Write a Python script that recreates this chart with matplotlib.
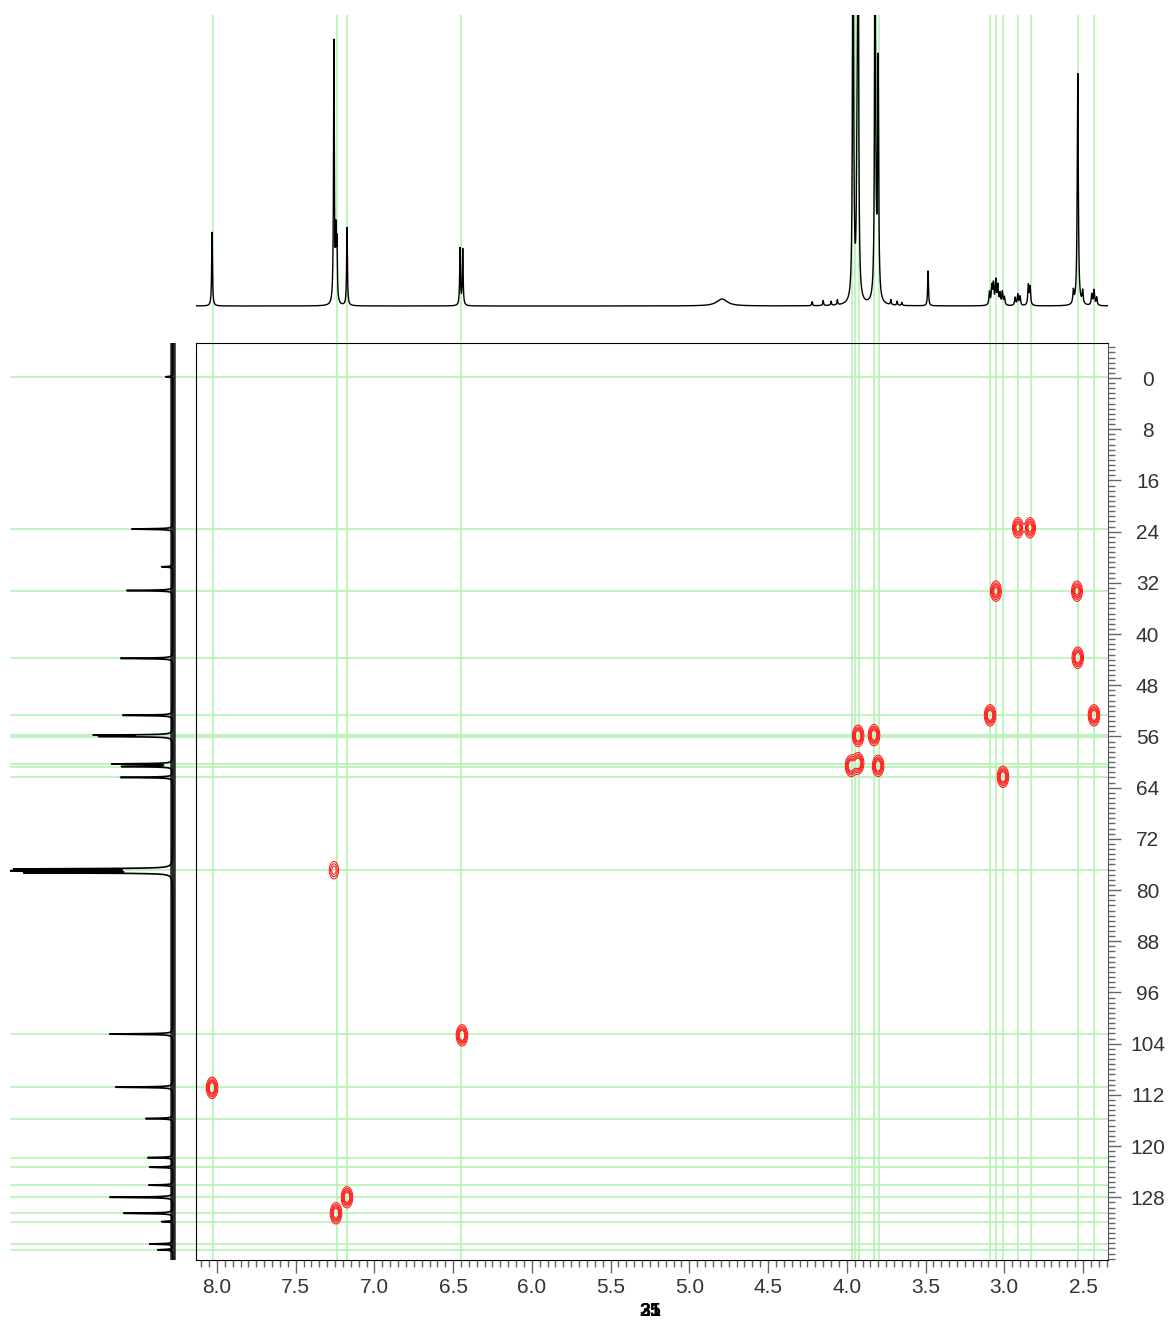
import numpy as np
import matplotlib
matplotlib.use('Agg')
import matplotlib.pyplot as plt
from matplotlib.ticker import FixedLocator

plt.rcParams['font.family'] = ['Liberation Sans', 'DejaVu Sans']

# 1H projection: shift (ppm), height, half width (ppm)
h_shift = [8.031, 7.257, 7.245, 7.238, 7.174, 6.456, 6.439, 4.792,
           4.22, 4.15, 4.10, 4.06, 3.72, 3.68, 3.65,
           3.960, 3.935, 3.928, 3.820, 3.801, 3.484,
           3.094, 3.079, 3.069, 3.054, 3.041, 3.027, 3.012, 2.999,
           2.931, 2.914, 2.900, 2.847, 2.836,
           2.561, 2.533, 2.502, 2.444, 2.430, 2.413]
h_height = [74, 262, 62, 56, 78, 57, 56, 7,
            4, 5, 4, 5, 5, 4, 3,
            420, 100, 400, 380, 236, 35,
            13, 18, 20, 24, 19, 11, 13, 8,
            8, 11, 9, 20, 18,
            13, 232, 13, 11, 15, 8]
h_width = [0.003, 0.003, 0.003, 0.003, 0.003, 0.003, 0.003, 0.04,
           0.003, 0.003, 0.003, 0.003, 0.003, 0.003, 0.003,
           0.004, 0.004, 0.004, 0.004, 0.004, 0.003,
           0.004, 0.004, 0.004, 0.004, 0.004, 0.004, 0.004, 0.004,
           0.004, 0.004, 0.004, 0.004, 0.004,
           0.004, 0.004, 0.004, 0.004, 0.004, 0.004]

# 13C projection: shift (ppm), height
c_shift = [-0.2, 23.6, 29.5, 33.2, 43.8, 52.7, 55.8, 56.0, 60.3, 60.7, 62.4,
           76.7, 77.0, 77.3, 102.5, 110.8, 115.7, 121.8, 123.3, 126.1,
           128.0, 130.5, 131.8, 135.3, 136.2]
c_height = [7, 41, 11, 46, 52, 50, 74, 68, 60, 50, 52,
            150, 200, 140, 63, 57, 27, 25, 23, 24,
            63, 49, 11, 23, 15]

# HSQC cross peaks: 1H ppm, 13C ppm, intensity
xp_h = [8.031, 7.257, 7.174, 7.244, 6.444, 3.928, 3.827, 3.973, 3.928, 3.801,
        3.008, 3.090, 2.430, 2.913, 2.836, 3.053, 2.538, 2.533]
xp_c = [110.9, 76.9, 128.0, 130.5, 102.7, 55.9, 55.8, 60.6, 60.2, 60.6,
        62.3, 52.7, 52.7, 23.4, 23.4, 33.3, 33.3, 43.7]
xp_int = [1.0, 0.45, 1.0, 1.0, 1.0, 1.0, 1.0, 1.0, 1.0, 1.0,
          1.0, 1.0, 1.0, 0.8, 0.8, 0.8, 0.8, 1.0]

# correlation guide lines
h_lines = [8.025, 7.237, 7.174, 6.450, 3.967, 3.948, 3.925, 3.827, 3.798,
           3.090, 3.055, 3.006, 2.914, 2.833, 2.534, 2.430]
c_lines = [-0.2, 23.6, 33.2, 43.8, 52.7, 55.8, 56.1, 60.3, 60.8, 62.4,
           76.8, 102.5, 110.8, 115.7, 121.8, 123.3, 126.1, 128.0, 130.5,
           131.8, 135.3, 136.2]

x_ticks = [8.0, 7.5, 7.0, 6.5, 6.0, 5.5, 5.0, 4.5, 4.0, 3.5, 3.0, 2.5]
y_ticks = list(range(0, 129, 8))

XLIM = (8.133, 2.341)
YLIM = (137.8, -5.47)
GREEN = '#b4f2b4'

W, H = 1171, 1324
fig = plt.figure(figsize=(W / 100, H / 100), dpi=100)
ax = fig.add_axes([196 / W, 1 - 1260 / H, 912 / W, 917 / H])
ax_top = fig.add_axes([196 / W, 1 - 343 / H, 912 / W, 328 / H])
ax_left = fig.add_axes([10 / W, 1 - 1260 / H, 186 / W, 917 / H])

# --- top 1H trace
xs = np.linspace(XLIM[0], XLIM[1], 14000)
spec = np.zeros_like(xs)
for p, h, w in zip(h_shift, h_height, h_width):
    spec += h / (1 + ((xs - p) / w) ** 2)
for v in h_lines:
    ax_top.axvline(v, color=GREEN, lw=1.2, zorder=1)
ax_top.plot(xs, spec, color='black', lw=1.0, zorder=2)
ax_top.set_xlim(XLIM)
ax_top.set_ylim(-37, 291)
ax_top.axis('off')

# --- left 13C trace
ys = np.linspace(YLIM[1], YLIM[0], 16000)
cspec = np.zeros_like(ys)
for p, h in zip(c_shift, c_height):
    cspec += h / (1 + ((ys - p) / 0.06) ** 2)
for v in c_lines:
    ax_left.axhline(v, color=GREEN, lw=1.2, zorder=1)
ax_left.axvline(0, color='#2a2a2a', lw=4, zorder=2)
ax_left.plot(cspec, ys, color='black', lw=1.2, zorder=3)
ax_left.set_xlim(162.7, -23.3)
ax_left.set_ylim(YLIM)
ax_left.axis('off')

# --- 2D HSQC
for v in h_lines:
    ax.axvline(v, color=GREEN, lw=1.2, zorder=1)
for v in c_lines:
    ax.axhline(v, color=GREEN, lw=1.2, zorder=1)

gx_axis = np.linspace(XLIM[0], XLIM[1], 3000)
gy_axis = np.linspace(YLIM[1], YLIM[0], 1400)
Z = np.zeros((gy_axis.size, gx_axis.size))
for hx, cy, a in zip(xp_h, xp_c, xp_int):
    gx = np.exp(-0.5 * ((gx_axis - hx) / 0.017) ** 2)
    gy = np.exp(-0.5 * ((gy_axis - cy) / 0.78) ** 2)
    Z += a * np.outer(gy, gx)
ax.contour(gx_axis, gy_axis, Z, levels=[0.1, 0.2, 0.32, 0.45, 0.6],
           colors='#ff1a1a', linewidths=0.75, zorder=2)

ax.set_xlim(XLIM)
ax.set_ylim(YLIM)
for side in ['left', 'top', 'bottom']:
    ax.spines[side].set_color('black')
ax.spines['right'].set_color('#555555')

ax.xaxis.set_major_locator(FixedLocator(x_ticks))
ax.set_xticklabels([f'{t:.1f}' for t in x_ticks])
ax.xaxis.set_minor_locator(FixedLocator(np.round(np.arange(2.35, 8.14, 0.05), 2)))
ax.yaxis.tick_right()
ax.yaxis.set_major_locator(FixedLocator(y_ticks))
ax.set_yticklabels([str(t) for t in y_ticks], ha='center')
ax.yaxis.set_minor_locator(FixedLocator(np.round(np.arange(-4.8, 137.8, 0.8), 1)))

ax.tick_params(axis='x', which='major', length=9, width=1, color='#666666',
               labelsize=15, labelcolor='#333333', pad=4)
ax.tick_params(axis='x', which='minor', length=5, width=1, color='#666666')
ax.tick_params(axis='y', which='major', length=9.5, width=1, color='#666666',
               labelsize=15, labelcolor='#333333', pad=19)
ax.tick_params(axis='y', which='minor', length=5, width=1, color='#666666')

fig.text(650 / W, 1 - 1311 / H, '25', ha='center', va='center',
         fontsize=14, fontweight='bold', color='black')
fig.text(650 / W, 1 - 1311 / H, '31', ha='center', va='center',
         fontsize=14, fontweight='bold', color='black')

fig.savefig('out.png', dpi=100)
